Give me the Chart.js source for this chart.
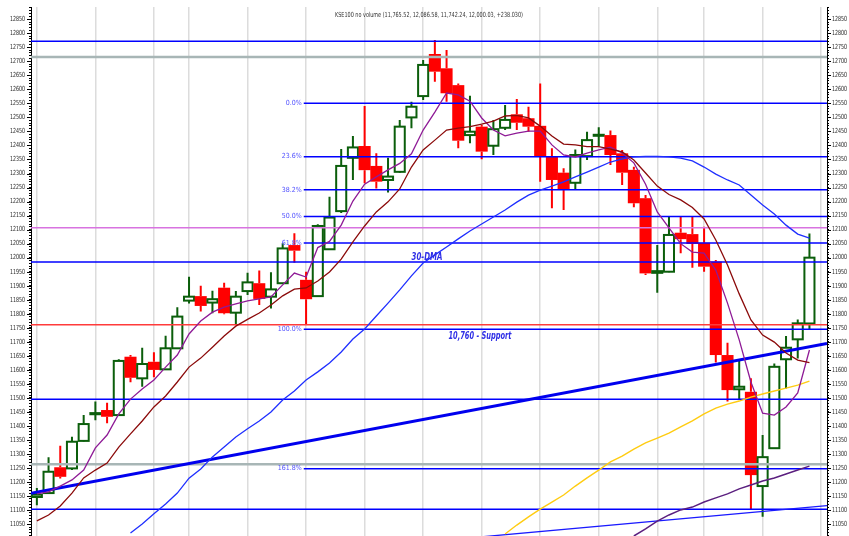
<!DOCTYPE html>
<html>
<head>
<meta charset="utf-8">
<script src="https://cdn.jsdelivr.net/npm/chart.js@4.4.1/dist/chart.umd.min.js"></script>
<style>
  html, body { margin: 0; padding: 0; background: #fff; }
  #wrap { width: 849px; height: 536px; position: relative; }
</style>
</head>
<body>
<div id="wrap"><canvas id="kse"></canvas></div>
<script>
// 日足データ (KSE100)
var opens  = [11147,11161,11253,11249,11347,11442,11457,11439,11647,11570,11629,11602,11677,11847,11863,11840,11893,11804,11881,11909,11861,11909,12045,11921,11863,12030,12166,12356,12398,12327,12277,12306,12500,12576,12726,12675,12615,12437,12467,12399,12463,12511,12497,12470,12360,12303,12267,12362,12435,12437,12372,12313,12212,11946,11950,12089,12084,12053,11986,11653,11531,11522,11186,11321,11638,11709,11765.52];
var highs  = [11179,11289,11330,11362,11439,11487,11483,11638,11653,11679,11663,11722,11823,11932,11900,11882,11911,11881,11946,11954,11948,12051,12087,11950,12119,12217,12387,12434,12541,12372,12356,12491,12556,12705,12776,12740,12621,12577,12473,12491,12544,12566,12538,12621,12390,12319,12386,12449,12465,12453,12384,12324,12223,12045,12146,12149,12149,12110,11992,11697,11635,11570,11368,11623,11721,11780,12086.58];
var lows   = [11118,11158,11213,11243,11345,11421,11410,11437,11556,11540,11574,11600,11675,11837,11808,11802,11798,11760,11867,11831,11819,11907,11982,11760,11860,12028,12159,12277,12265,12247,12232,12303,12461,12562,12627,12556,12390,12408,12351,12366,12455,12455,12449,12271,12176,12170,12244,12348,12396,12330,12259,12180,11938,11875,11948,12016,11964,11950,11626,11487,11493,11101,11077,11318,11534,11641,11742.24];
var closes = [11155,11237,11219,11344,11407,11446,11433,11632,11572,11621,11600,11677,11790,11861,11828,11852,11802,11861,11912,11853,11887,12033,12025,11852,12113,12143,12327,12393,12312,12271,12289,12467,12538,12687,12663,12586,12417,12449,12378,12458,12491,12481,12467,12362,12277,12244,12366,12419,12438,12366,12303,12194,11944,11952,12081,12066,12049,11968,11653,11528,11540,11225,11289,11611,11679,11766,12000.03];

// 移動平均線 (null = 表示なし)
var maShort = [11158,11165,11186,11208,11243,11322,11368,11443,11496,11532,11564,11610,11653,11728,11774,11806,11824,11835,11846,11853,11860,11903,11945,11931,12036,12058,12116,12202,12262,12288,12313,12336,12370,12455,12519,12587,12580,12558,12498,12455,12434,12444,12451,12451,12402,12366,12359,12373,12384,12394,12373,12338,12262,12163,12106,12050,12020,12016,11956,11838,11707,11557,11446,11439,11468,11518,11671];
var maMid   = [11062,11083,11115,11161,11215,11243,11268,11325,11372,11418,11468,11507,11557,11610,11642,11681,11721,11756,11780,11803,11831,11864,11888,11892,11917,11949,11995,12056,12113,12163,12199,12245,12323,12384,12419,12455,12462,12467,12476,12487,12505,12507,12498,12469,12434,12405,12402,12396,12396,12387,12377,12348,12302,12255,12225,12206,12179,12138,12063,11974,11871,11778,11724,11699,11660,11635,11626];
var ma30    = [null,null,null,null,null,null,null,null,11019,11051,11087,11122,11161,11214,11247,11290,11325,11361,11390,11418,11450,11493,11525,11564,11593,11625,11664,11710,11746,11792,11838,11885,11935,11981,12010,12038,12067,12095,12120,12145,12170,12198,12223,12241,12255,12270,12288,12305,12323,12341,12352,12359,12361,12361,12359,12355,12345,12323,12298,12277,12259,12223,12188,12156,12116,12084,12070];
var maLong  = [null,null,null,null,null,null,null,null,null,null,null,null,null,null,null,null,null,null,null,null,null,null,null,null,null,null,null,null,null,null,null,null,null,null,null,null,null,null,null,null,11015,11047,11076,11104,11129,11154,11186,11215,11243,11272,11293,11318,11340,11357,11375,11397,11418,11443,11464,11478,11489,11503,11514,11525,11535,11546,11560];
var maSlow  = [null,null,null,null,null,null,null,null,null,null,null,null,null,null,null,null,null,null,null,null,null,null,null,null,null,null,null,null,null,null,null,null,null,null,null,null,null,null,null,null,null,null,null,null,null,null,null,null,null,null,null,11008,11033,11061,11083,11101,11111,11129,11144,11158,11176,11190,11204,11215,11229,11243,11257];

// トレンドライン [x1, y1, x2, y2]
var trendUp  = [-0.5, 11160, 67.5, 11694];
var trendLow = [30, 10975, 67.5, 11116];

// 水平線
var hLevels = [12771, 12715, 12107, 11985, 11761, 11495, 11264, 11103];
var hColors = ["#0000ff", "#a8b6b6", "#d873e0", "#0000ff", "#ff3b3b", "#0000ff", "#a8b6b6", "#0000ff"];
var fibNames  = ["0.0%", "23.6%", "38.2%", "50.0%", "61.8%", "100.0%", "161.8%"];
var fibLevels = [12550, 12360, 12242, 12147, 12052, 11745, 11248];
var fibStart = 22.8;

// 軸
var yLabels = [11050,11100,11150,11200,11250,11300,11350,11400,11450,11500,11550,11600,11650,11700,11750,11800,11850,11900,11950,12000,12050,12100,12150,12200,12250,12300,12350,12400,12450,12500,12550,12600,12650,12700,12750,12800,12850];
var gridIdx = [0, 5, 10, 13, 18, 23, 28, 33, 38, 43, 48, 53, 57, 62, 67];
var yMin = 11008, yMax = 12893.5;

var titleText = "KSE100 no volume (11,765.52, 12,086.58, 11,742.24, 12,000.03, +238.030)";
var narrow = "'Liberation Sans Narrow', 'DejaVu Sans Condensed', sans-serif";

function series(arr) {
    var out = [];
    for (var i = 0; i < arr.length; i++) {
        if (arr[i] !== null) out.push({x: i, y: arr[i]});
    }
    return out;
}

function lineSet(data, color, width, order) {
    return {
        type: 'line', data: data, borderColor: color, borderWidth: width,
        pointRadius: 0, tension: 0, fill: false, order: order
    };
}

var datasets = [];
for (var i = 0; i < hLevels.length; i++) {
    var gray = hColors[i] === "#a8b6b6";
    datasets.push(lineSet([{x: -0.5, y: hLevels[i]}, {x: 67.5, y: hLevels[i]}], hColors[i], gray ? 2.5 : 1.5, 6));
}
for (var i = 0; i < fibLevels.length; i++) {
    datasets.push(lineSet([{x: fibStart, y: fibLevels[i]}, {x: 67.5, y: fibLevels[i]}], "#0000ff", 1.5, 5));
}
datasets.push(lineSet([{x: trendUp[0], y: trendUp[1]}, {x: trendUp[2], y: trendUp[3]}], "#0000ee", 3, 3));
datasets.push(lineSet([{x: trendLow[0], y: trendLow[1]}, {x: trendLow[2], y: trendLow[3]}], "#1a1aff", 1.3, 3));
datasets.push(lineSet(series(maLong), "#ffcc11", 1.4, 2));
datasets.push(lineSet(series(maSlow), "#5b1f7f", 1.5, 2));
datasets.push(lineSet(series(ma30), "#1f2fff", 1.3, 2));
datasets.push(lineSet(series(maMid), "#8b0a0a", 1.3, 1));
datasets.push(lineSet(series(maShort), "#8e1a96", 1.3, 1));

// ローソク足
var candlePlugin = {
    id: 'candles',
    beforeDatasetsDraw: function(chart) {
        var ctx = chart.ctx, xs = chart.scales.x, ys = chart.scales.y;
        var half = (xs.getPixelForValue(1) - xs.getPixelForValue(0)) * 0.43;
        ctx.save();
        for (var i = 0; i < opens.length; i++) {
            var x = xs.getPixelForValue(i);
            var o = ys.getPixelForValue(opens[i]), c = ys.getPixelForValue(closes[i]);
            var h = ys.getPixelForValue(highs[i]), l = ys.getPixelForValue(lows[i]);
            var up = closes[i] >= opens[i];
            var top = Math.min(o, c), bot = Math.max(o, c);
            var col = up ? "#0b5e0b" : "#ff0000";
            ctx.strokeStyle = col;
            ctx.lineWidth = 2;
            ctx.beginPath();
            ctx.moveTo(x, h); ctx.lineTo(x, top);
            ctx.moveTo(x, bot); ctx.lineTo(x, l);
            ctx.stroke();
            if (up) {
                ctx.fillStyle = "#fff";
                ctx.fillRect(x - half, top, half * 2, Math.max(bot - top, 1));
                ctx.strokeRect(x - half, top, half * 2, Math.max(bot - top, 1));
            } else {
                ctx.fillStyle = col;
                ctx.fillRect(x - half - 1, top, half * 2 + 2, Math.max(bot - top, 2));
            }
        }
        ctx.restore();
    }
};

// 文字を指定幅に合わせて描く (align: -1 右寄せ, 0 中央, 1 左寄せ)
function fitText(ctx, text, x, y, width, align) {
    var w = ctx.measureText(text).width;
    var k = Math.min(width / w, 1.3);
    ctx.save();
    ctx.translate(x, y);
    ctx.scale(k, 1);
    ctx.textAlign = align < 0 ? "right" : (align > 0 ? "left" : "center");
    ctx.textBaseline = "middle";
    ctx.fillText(text, 0, 0);
    ctx.restore();
}

var textPlugin = {
    id: 'notes',
    afterDraw: function(chart) {
        var ctx = chart.ctx, xs = chart.scales.x, ys = chart.scales.y;
        var area = chart.chartArea;
        ctx.save();

        // 軸ラベルと目盛り
        ctx.fillStyle = "#222";
        ctx.strokeStyle = "#000";
        ctx.lineWidth = 1;
        ctx.font = "7px " + narrow;
        for (var i = 0; i < yLabels.length; i++) {
            var py = ys.getPixelForValue(yLabels[i]);
            var sy = Math.round(py) + 0.5;
            ctx.beginPath();
            ctx.moveTo(area.left - 4, sy); ctx.lineTo(area.left, sy);
            ctx.moveTo(area.right, sy); ctx.lineTo(area.right + 4, sy);
            ctx.stroke();
            fitText(ctx, String(yLabels[i]), area.left - 6, py, 15, -1);
            fitText(ctx, String(yLabels[i]), area.right + 5, py, 15, 1);
        }

        ctx.fillStyle = "#333";
        fitText(ctx, titleText, (area.left + area.right) / 2, 15, 188, 0);

        ctx.fillStyle = "#5050ff";
        ctx.textAlign = "right";
        ctx.textBaseline = "middle";
        var fx = xs.getPixelForValue(fibStart) - 2;
        for (var i = 0; i < fibNames.length; i++) {
            ctx.fillText(fibNames[i], fx, ys.getPixelForValue(fibLevels[i]));
        }

        ctx.fillStyle = "#2f2fe6";
        ctx.font = "italic bold 11px " + narrow;
        fitText(ctx, "30-DMA", 427, 257, 31, 0);
        fitText(ctx, "10,760 - Support", 480, 336, 63, 0);
        ctx.restore();
    }
};

function yAxis(pos, w) {
    return {
        type: 'linear', position: pos, min: yMin, max: yMax,
        afterBuildTicks: function(s) {
            var t = [];
            for (var v = 11010; v <= 12890; v += 10) t.push({value: v});
            s.ticks = t;
        },
        afterFit: function(s) { s.width = w; },
        ticks: {display: false},
        grid: {drawOnChartArea: false, tickLength: 2, tickColor: "#000", tickWidth: 1},
        border: {color: "#000", width: 1}
    };
}

var chart = new Chart(document.getElementById("kse"), {
    type: 'line',
    data: {datasets: datasets},
    plugins: [candlePlugin, textPlugin],
    options: {
        responsive: true,
        maintainAspectRatio: false,
        animation: false,
        layout: {padding: {top: 7, left: 0, right: 0, bottom: 0}},
        plugins: {legend: {display: false}, tooltip: {enabled: false}},
        scales: {
            x: {
                type: 'linear', min: -0.5, max: 67.5,
                afterBuildTicks: function(s) {
                    s.ticks = gridIdx.map(function(v) { return {value: v}; });
                },
                afterFit: function(s) { s.height = 0; },
                ticks: {display: false},
                grid: {color: "#dcdcdc", lineWidth: 1.5, drawTicks: false},
                border: {display: false}
            },
            y: yAxis('left', 31),
            y2: yAxis('right', 22)
        }
    }
});
</script>
</body>
</html>
